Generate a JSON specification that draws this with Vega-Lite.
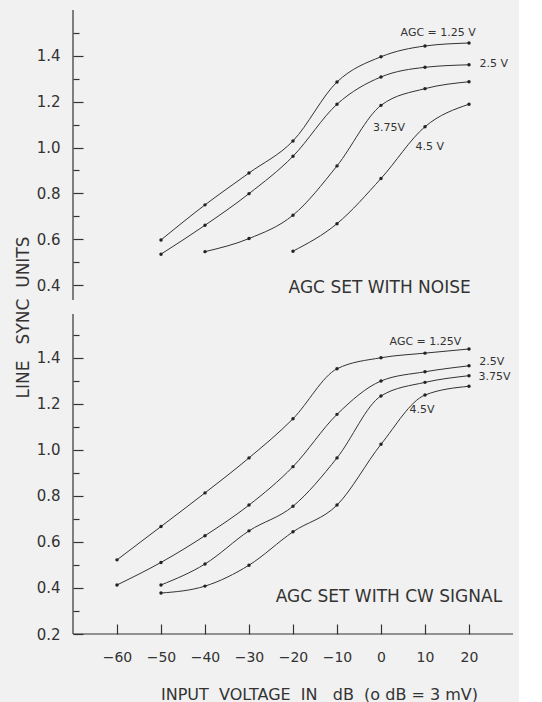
{
  "$schema": "https://vega.github.io/schema/vega-lite/v6.json",
  "background": "#f1f1f1",
  "padding": {"left": 14, "top": 9, "right": 5, "bottom": 2},
  "bounds": "flush",
  "spacing": 14,
  "config": {
    "view": {"stroke": null},
    "font": "DejaVu Sans",
    "axis": {
      "grid": false,
      "domain": false,
      "tickColor": "#333",
      "labelColor": "#333",
      "titleColor": "#333",
      "labelFont": "DejaVu Sans",
      "titleFont": "DejaVu Sans",
      "titleFontWeight": "normal",
      "tickWidth": 1.2
    }
  },
  "datasets": {
    "curves": [
      {"mode": "noise", "agc": "1.25", "db": -50, "sync": 0.597},
      {"mode": "noise", "agc": "1.25", "db": -40, "sync": 0.75},
      {"mode": "noise", "agc": "1.25", "db": -30, "sync": 0.889},
      {"mode": "noise", "agc": "1.25", "db": -20, "sync": 1.029},
      {"mode": "noise", "agc": "1.25", "db": -10, "sync": 1.286},
      {"mode": "noise", "agc": "1.25", "db": 0, "sync": 1.396},
      {"mode": "noise", "agc": "1.25", "db": 10, "sync": 1.443},
      {"mode": "noise", "agc": "1.25", "db": 20, "sync": 1.456},
      {"mode": "noise", "agc": "2.5", "db": -50, "sync": 0.535},
      {"mode": "noise", "agc": "2.5", "db": -40, "sync": 0.661},
      {"mode": "noise", "agc": "2.5", "db": -30, "sync": 0.799},
      {"mode": "noise", "agc": "2.5", "db": -20, "sync": 0.962},
      {"mode": "noise", "agc": "2.5", "db": -10, "sync": 1.189},
      {"mode": "noise", "agc": "2.5", "db": 0, "sync": 1.308},
      {"mode": "noise", "agc": "2.5", "db": 10, "sync": 1.35},
      {"mode": "noise", "agc": "2.5", "db": 20, "sync": 1.361},
      {"mode": "noise", "agc": "3.75", "db": -40, "sync": 0.546},
      {"mode": "noise", "agc": "3.75", "db": -30, "sync": 0.603},
      {"mode": "noise", "agc": "3.75", "db": -20, "sync": 0.705},
      {"mode": "noise", "agc": "3.75", "db": -10, "sync": 0.92},
      {"mode": "noise", "agc": "3.75", "db": 0, "sync": 1.184},
      {"mode": "noise", "agc": "3.75", "db": 10, "sync": 1.257},
      {"mode": "noise", "agc": "3.75", "db": 20, "sync": 1.287},
      {"mode": "noise", "agc": "4.5", "db": -20, "sync": 0.548},
      {"mode": "noise", "agc": "4.5", "db": -10, "sync": 0.668},
      {"mode": "noise", "agc": "4.5", "db": 0, "sync": 0.865},
      {"mode": "noise", "agc": "4.5", "db": 10, "sync": 1.091},
      {"mode": "noise", "agc": "4.5", "db": 20, "sync": 1.189},
      {"mode": "cw", "agc": "1.25", "db": -60, "sync": 0.522},
      {"mode": "cw", "agc": "1.25", "db": -50, "sync": 0.667},
      {"mode": "cw", "agc": "1.25", "db": -40, "sync": 0.813},
      {"mode": "cw", "agc": "1.25", "db": -30, "sync": 0.965},
      {"mode": "cw", "agc": "1.25", "db": -20, "sync": 1.135},
      {"mode": "cw", "agc": "1.25", "db": -10, "sync": 1.352},
      {"mode": "cw", "agc": "1.25", "db": 0, "sync": 1.4},
      {"mode": "cw", "agc": "1.25", "db": 10, "sync": 1.42},
      {"mode": "cw", "agc": "1.25", "db": 20, "sync": 1.438},
      {"mode": "cw", "agc": "2.5", "db": -60, "sync": 0.413},
      {"mode": "cw", "agc": "2.5", "db": -50, "sync": 0.511},
      {"mode": "cw", "agc": "2.5", "db": -40, "sync": 0.627},
      {"mode": "cw", "agc": "2.5", "db": -30, "sync": 0.76},
      {"mode": "cw", "agc": "2.5", "db": -20, "sync": 0.927},
      {"mode": "cw", "agc": "2.5", "db": -10, "sync": 1.154},
      {"mode": "cw", "agc": "2.5", "db": 0, "sync": 1.299},
      {"mode": "cw", "agc": "2.5", "db": 10, "sync": 1.339},
      {"mode": "cw", "agc": "2.5", "db": 20, "sync": 1.365},
      {"mode": "cw", "agc": "3.75", "db": -50, "sync": 0.413},
      {"mode": "cw", "agc": "3.75", "db": -40, "sync": 0.504},
      {"mode": "cw", "agc": "3.75", "db": -30, "sync": 0.648},
      {"mode": "cw", "agc": "3.75", "db": -20, "sync": 0.755},
      {"mode": "cw", "agc": "3.75", "db": -10, "sync": 0.965},
      {"mode": "cw", "agc": "3.75", "db": 0, "sync": 1.234},
      {"mode": "cw", "agc": "3.75", "db": 10, "sync": 1.293},
      {"mode": "cw", "agc": "3.75", "db": 20, "sync": 1.322},
      {"mode": "cw", "agc": "4.5", "db": -50, "sync": 0.378},
      {"mode": "cw", "agc": "4.5", "db": -40, "sync": 0.408},
      {"mode": "cw", "agc": "4.5", "db": -30, "sync": 0.499},
      {"mode": "cw", "agc": "4.5", "db": -20, "sync": 0.644},
      {"mode": "cw", "agc": "4.5", "db": -10, "sync": 0.76},
      {"mode": "cw", "agc": "4.5", "db": 0, "sync": 1.024},
      {"mode": "cw", "agc": "4.5", "db": 10, "sync": 1.238},
      {"mode": "cw", "agc": "4.5", "db": 20, "sync": 1.276}
    ],
    "labels": [
      {"mode": "noise", "db": 13, "sync": 1.5, "text": "AGC = 1.25 V"},
      {"mode": "noise", "db": 25.6, "sync": 1.363, "text": "2.5 V"},
      {"mode": "noise", "db": 1.8, "sync": 1.084, "text": "3.75V"},
      {"mode": "noise", "db": 11.1, "sync": 1.004, "text": "4.5 V"},
      {"mode": "cw", "db": 10.1, "sync": 1.47, "text": "AGC = 1.25V"},
      {"mode": "cw", "db": 25.2, "sync": 1.381, "text": "2.5V"},
      {"mode": "cw", "db": 25.8, "sync": 1.316, "text": "3.75V"},
      {"mode": "cw", "db": 9.3, "sync": 1.173, "text": "4.5V"}
    ],
    "captions": [
      {"mode": "noise", "db": -0.3, "sync": 0.388, "text": "AGC SET WITH NOISE"},
      {"mode": "cw", "db": 1.8, "sync": 0.36, "text": "AGC SET WITH CW SIGNAL"}
    ],
    "frame": [{"edge": "axis"}]
  },
  "vconcat": [
    {
      "width": 440,
      "height": 290,
      "resolve": {"axis": {"y": "independent"}},
      "layer": [
        {
          "data": {"name": "curves"},
          "transform": [{"filter": "datum.mode === 'noise'"}],
          "mark": {"type": "line", "interpolate": "monotone", "color": "#333", "strokeWidth": 1},
          "encoding": {
            "x": {"field": "db", "type": "quantitative", "scale": {"domain": [-70, 30], "nice": false}, "axis": null},
            "y": {
              "field": "sync", "type": "quantitative",
              "scale": {"domain": [0.335, 1.6], "nice": false, "zero": false},
              "axis": {
                "orient": "left",
                "values": [0.4, 0.6, 0.8, 1.0, 1.2, 1.4],
                "format": ".1f",
                "offset": -10,
                "tickSize": 10,
                "labelPadding": 13,
                "labelFontSize": 15,
                "title": "LINE\u00a0\u00a0\u00a0SYNC\u00a0\u00a0UNITS",
                "titleFontSize": 17,
                "titleX": -60,
                "titleY": 307,
                "titleAngle": -90,
                "titleAlign": "center",
                "titleBaseline": "middle"
              }
            },
            "detail": {"field": "agc"}
          }
        },
        {
          "data": {"name": "curves"},
          "transform": [{"filter": "datum.mode === 'noise'"}],
          "mark": {"type": "point", "filled": true, "size": 12, "color": "#222", "opacity": 1},
          "encoding": {
            "x": {"field": "db", "type": "quantitative"},
            "y": {
              "field": "sync", "type": "quantitative",
              "axis": {
                "orient": "left",
                "values": [0.5, 0.7, 0.9, 1.1, 1.3, 1.5],
                "offset": -6,
                "tickSize": 6,
                "labels": false,
                "title": null
              }
            }
          }
        },
        {
          "data": {"name": "frame"},
          "mark": {"type": "rule", "color": "#333", "strokeWidth": 1.2},
          "encoding": {"x": {"datum": -70}}
        },
        {
          "data": {"name": "labels"},
          "transform": [{"filter": "datum.mode === 'noise'"}],
          "mark": {"type": "text", "fontSize": 11, "color": "#333", "align": "center", "baseline": "middle"},
          "encoding": {
            "x": {"field": "db", "type": "quantitative"},
            "y": {"field": "sync", "type": "quantitative", "axis": null},
            "text": {"field": "text"}
          }
        },
        {
          "data": {"name": "captions"},
          "transform": [{"filter": "datum.mode === 'noise'"}],
          "mark": {"type": "text", "fontSize": 17, "color": "#333", "align": "center", "baseline": "middle"},
          "encoding": {
            "x": {"field": "db", "type": "quantitative"},
            "y": {"field": "sync", "type": "quantitative", "axis": null},
            "text": {"field": "text"}
          }
        }
      ]
    },
    {
      "width": 440,
      "height": 320,
      "resolve": {"axis": {"y": "independent"}},
      "layer": [
        {
          "data": {"name": "curves"},
          "transform": [{"filter": "datum.mode === 'cw'"}],
          "mark": {"type": "line", "interpolate": "monotone", "color": "#333", "strokeWidth": 1},
          "encoding": {
            "x": {
              "field": "db", "type": "quantitative",
              "scale": {"domain": [-70, 30], "nice": false},
              "axis": {
                "values": [-60, -50, -40, -30, -20, -10, 0, 10, 20],
                "offset": -10,
                "tickSize": 10,
                "labelPadding": 16,
                "labelFontSize": 14,
                "title": "INPUT\u00a0\u00a0VOLTAGE\u00a0\u00a0IN\u00a0\u00a0\u00a0dB\u00a0\u00a0(o\u00a0dB\u00a0=\u00a03\u00a0mV)",
                "titleFontSize": 16,
                "titleX": 246,
                "titleY": 75,
                "titleAlign": "center",
                "titleBaseline": "alphabetic"
              }
            },
            "y": {
              "field": "sync", "type": "quantitative",
              "scale": {"domain": [0.2, 1.59], "nice": false, "zero": false},
              "axis": {
                "orient": "left",
                "values": [0.2, 0.4, 0.6, 0.8, 1.0, 1.2, 1.4],
                "format": ".1f",
                "offset": -10,
                "tickSize": 10,
                "labelPadding": 13,
                "labelFontSize": 15,
                "title": null
              }
            },
            "detail": {"field": "agc"}
          }
        },
        {
          "data": {"name": "curves"},
          "transform": [{"filter": "datum.mode === 'cw'"}],
          "mark": {"type": "point", "filled": true, "size": 12, "color": "#222", "opacity": 1},
          "encoding": {
            "x": {"field": "db", "type": "quantitative"},
            "y": {
              "field": "sync", "type": "quantitative",
              "axis": {
                "orient": "left",
                "values": [0.3, 0.5, 0.7, 0.9, 1.1, 1.3, 1.5],
                "offset": -6,
                "tickSize": 6,
                "labels": false,
                "title": null
              }
            }
          }
        },
        {
          "data": {"name": "frame"},
          "mark": {"type": "rule", "color": "#333", "strokeWidth": 1.2},
          "encoding": {"x": {"datum": -70}}
        },
        {
          "data": {"name": "frame"},
          "mark": {"type": "rule", "color": "#333", "strokeWidth": 1.2},
          "encoding": {"y": {"datum": 0.2, "axis": null}}
        },
        {
          "data": {"name": "labels"},
          "transform": [{"filter": "datum.mode === 'cw'"}],
          "mark": {"type": "text", "fontSize": 11, "color": "#333", "align": "center", "baseline": "middle"},
          "encoding": {
            "x": {"field": "db", "type": "quantitative"},
            "y": {"field": "sync", "type": "quantitative", "axis": null},
            "text": {"field": "text"}
          }
        },
        {
          "data": {"name": "captions"},
          "transform": [{"filter": "datum.mode === 'cw'"}],
          "mark": {"type": "text", "fontSize": 17, "color": "#333", "align": "center", "baseline": "middle"},
          "encoding": {
            "x": {"field": "db", "type": "quantitative"},
            "y": {"field": "sync", "type": "quantitative", "axis": null},
            "text": {"field": "text"}
          }
        }
      ]
    }
  ]
}
